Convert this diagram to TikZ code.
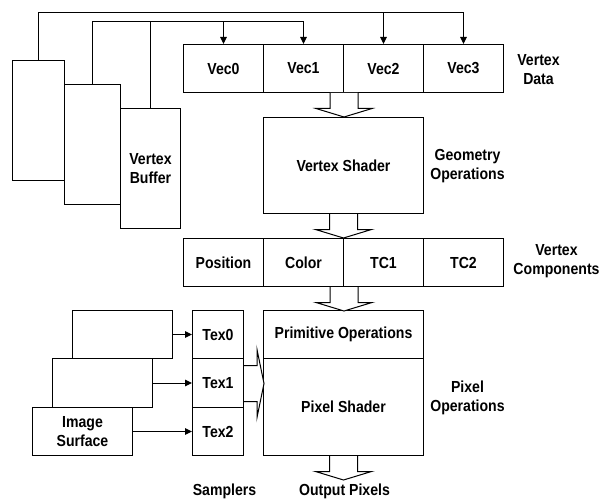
\documentclass[tikz,border=0pt]{standalone}
\usepackage{fontspec}
\setmainfont{Liberation Sans}[FakeStretch=0.88]
\usetikzlibrary{arrows.meta,calc}
\tikzset{
  txt/.style={font=\fontsize{16}{19}\selectfont\bfseries, align=center, inner sep=0pt},
  box/.style={txt, draw, fill=white, line width=1pt, minimum width=#1},
  box/.default=80,
  arr/.style={line width=1pt, -{Triangle[length=7pt,width=6.5pt]}},
  conn/.style={line width=1pt},
  blockarrow/.style={line width=1pt, fill=white, line join=miter},
}
\newcommand\downblock[1]{%
  \filldraw[blockarrow] ($(#1)+(-14,0)$) -- ++(0,15.5) -- ++(-14,0) -- ++(28,8.5) -- ++(28,-8.5) -- ++(-14,0) -- ++(0,-15.5);}
\begin{document}
\begin{tikzpicture}[x=1pt,y=-1pt]
\useasboundingbox (0,0) rectangle (599,500);
\begin{scope}[shift={(0.5,0.5)}]
% vertex buffers
\node[box=52, minimum height=120] (bufA) at (38,120) {};
\node[box=56, minimum height=120] (bufB) at (92,144) {};
\node[box=60, minimum height=120] (bufC) at (150,168) {Vertex\\Buffer};
% vertex data
\node[box, minimum height=48] (vec0) at (223,68) {Vec0};
\node[box, minimum height=48] (vec1) at (303,68) {Vec1};
\node[box, minimum height=48] (vec2) at (383,68) {Vec2};
\node[box, minimum height=48] (vec3) at (463,68) {Vec3};
\node[txt] (ldata) at (538,69) {Vertex\\Data};
% vertex shader
\node[box=160, minimum height=96] (vs) at (343,165) {Vertex Shader};
\node[txt] (lgeom) at (467,166) {Geometry\\Operations};
% components
\node[box, minimum height=48] (cpos) at (223,262) {Position};
\node[box, minimum height=48] (ccol) at (303,262) {Color};
\node[box, minimum height=48] (ctc1) at (383,262) {TC1};
\node[box, minimum height=48] (ctc2) at (463,262) {TC2};
\node[txt] (lcomp) at (556,261) {Vertex\\Components};
% primitive / pixel
\node[box=160, minimum height=48] (prim) at (343,334) {Primitive Operations};
\node[box=160, minimum height=97] (pix) at (343,406.5) {Pixel Shader};
\node[txt] (lpix) at (467,397) {Pixel\\Operations};
% samplers
\node[box=51, minimum height=48] (tex0) at (217.5,334) {Tex0};
\node[box=51, minimum height=49] (tex1) at (217.5,382.5) {Tex1};
\node[box=51, minimum height=48] (tex2) at (217.5,431) {Tex2};
% image surfaces
\node[box=100, minimum height=48] (img1) at (122,334) {};
\node[box=100, minimum height=49] (img2) at (102,382.5) {};
\node[box=100, minimum height=48] (img3) at (82,431) {Image\\Surface};
% bottom labels
\node[txt] (lsamp) at (224,491) {Samplers};
\node[txt] (lout) at (344,491) {Output Pixels};
% bus connectors
\coordinate (busA) at (0,12);
\coordinate (busB) at (0,21);
\draw[arr] (bufA.north) |- (busA -| vec3.north) -- (vec3.north);
\draw[arr] (busA -| vec2.north) -- (vec2.north);
\draw[arr] (bufB.north) |- (busB -| vec1.north) -- (vec1.north);
\draw[arr] (busB -| vec0.north) -- (vec0.north);
\draw[conn] (bufC.north) -- (bufC.north |- busB);
% texture arrows
\draw[arr] (img1.east) -- (tex0.west);
\draw[arr] (img2.east) -- (tex1.west);
\draw[arr] (img3.east) -- (tex2.west);
% block arrows
\downblock{vec1.south east}
\downblock{vs.south}
\downblock{ccol.south east}
\downblock{pix.south}
\filldraw[blockarrow] ($(tex1.east)+(0,-17.5)$) -- ++(13,0) -- ++(0,-16) -- ++(7,34) -- ++(-7,34) -- ++(0,-16) -- ++(-13,0);
\end{scope}
\end{tikzpicture}
\end{document}
